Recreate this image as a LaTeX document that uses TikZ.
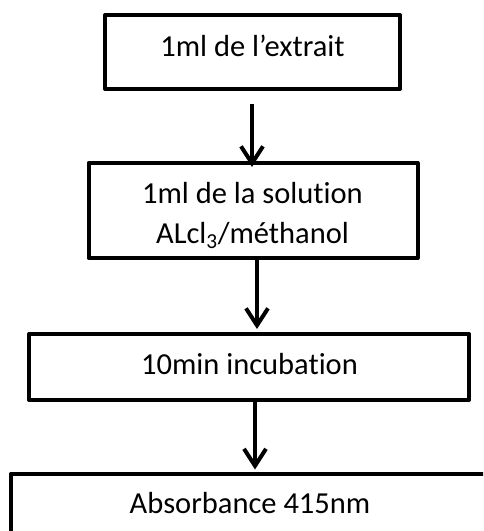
\documentclass[tikz,border=0pt]{standalone}
\usepackage{fontspec}
\setmainfont{Carlito}[Ligatures=NoCommon]
\usetikzlibrary{arrows.meta}
\begin{document}
\begin{tikzpicture}[x=1pt,y=-1pt,
  boxstyle/.style={draw=black,line width=4pt,line join=round,inner sep=0pt,fill=none},
  txt/.style={inner sep=0pt,anchor=base,font=\fontsize{30.5}{40}\selectfont,align=center},
  arr/.style={line width=4pt,-{Straight Barb[length=17pt,width=22pt,line width=4pt]}}]
\useasboundingbox (0,0) rectangle (483,531);
\clip (0,0) rectangle (483,531);
\node[boxstyle,minimum width=295pt,minimum height=74pt] (b1) at (252.5,52) {};
\node[boxstyle,minimum width=329pt,minimum height=95pt] (b2) at (253,210.5) {};
\node[boxstyle,minimum width=440pt,minimum height=66pt] (b3) at (249,367) {};
\node[boxstyle,minimum width=489pt,minimum height=87pt] (b4) at (255.5,517) {};
\node[txt] (t1) at (252.5,56) {1ml de l’extrait};
\node[txt] (t2) at (252.5,243) {1ml de la solution\\ALcl\textsubscript{3}/méthanol};
\node[txt] (t3) at (249.5,374) {10min incubation};
\node[txt] (t4) at (250,513) {Absorbance 415nm};
\draw[arr] ([xshift=-0.5pt,yshift=-13pt]b1.south) -- ([xshift=-1pt,yshift=-6pt]b2.north);
\draw[arr] ([xshift=4pt]b2.south) -- ([xshift=8pt,yshift=3pt]b3.north);
\draw[arr] ([xshift=6pt]b3.south) -- ([xshift=-0.5pt,yshift=2pt]b4.north);
\end{tikzpicture}
\end{document}
